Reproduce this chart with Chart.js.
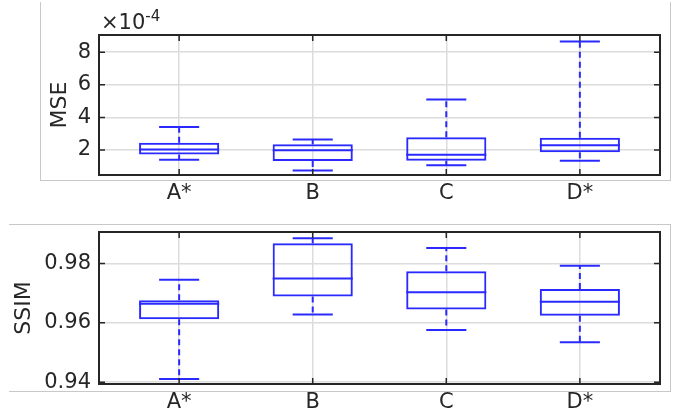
<!DOCTYPE html>
<html>
<head>
<meta charset="utf-8">
<script src="https://cdn.jsdelivr.net/npm/chart.js@4.4.1/dist/chart.umd.min.js"></script>
<style>
  html, body { margin: 0; padding: 0; background: #fff; }
  #wrap { position: relative; width: 683px; height: 415px; overflow: hidden; }
  canvas { position: absolute; left: 0; }
  #c-mse { top: 0; }
  #c-ssim { top: 200px; }
  .panel { position: absolute; border: 1px solid #c8c8c8; box-sizing: border-box; }
  #p-top { left: 40px; top: 2px; width: 631px; height: 179px; border-top: none; }
  #p-bot { left: 9px; top: 224px; width: 662px; height: 168px; border-left: none; }
</style>
</head>
<body>
<div id="wrap">
  <div class="panel" id="p-top"></div>
  <div class="panel" id="p-bot"></div>
  <canvas id="c-mse" width="683" height="200"></canvas>
  <canvas id="c-ssim" width="683" height="215"></canvas>
</div>
<script>
// ── data ──
const categories = ['A*', 'B', 'C', 'D*'];

// MSE (x1e-4)
const mseMin = [1.41e-4, 0.75e-4, 1.06e-4, 1.35e-4];
const mseQ1  = [1.72e-4, 1.33e-4, 1.35e-4, 1.86e-4];
const mseMed = [2.04e-4, 1.98e-4, 1.71e-4, 2.29e-4];
const mseQ3  = [2.45e-4, 2.35e-4, 2.78e-4, 2.76e-4];
const mseMax = [3.41e-4, 2.65e-4, 5.10e-4, 8.65e-4];
const mseTicks = [2e-4, 4e-4, 6e-4, 8e-4];

// SSIM
const ssimMin = [0.9411, 0.9628, 0.9576, 0.9535];
const ssimQ1  = [0.9612, 0.9689, 0.9645, 0.9624];
const ssimMed = [0.9664, 0.9749, 0.9703, 0.9671];
const ssimQ3  = [0.9676, 0.9868, 0.9774, 0.9714];
const ssimMax = [0.9745, 0.9885, 0.9852, 0.9792];
const ssimTicks = [0.94, 0.96, 0.98];

const BLUE = '#2a2aff';
const INK = '#262626';
const FONT = 'DejaVu Sans';

// medians, whiskers, caps, frame and inward ticks
const boxParts = {
  id: 'boxParts',
  afterDatasetsDraw(chart) {
    const o = chart.options.plugins.boxParts;
    const { ctx, scales: { x, y } } = chart;
    const line = (x0, y0, x1, y1) => { ctx.beginPath(); ctx.moveTo(x0, y0); ctx.lineTo(x1, y1); ctx.stroke(); };
    ctx.save();
    ctx.strokeStyle = BLUE;
    ctx.lineWidth = 2;
    o.med.forEach((m, i) => {
      const c = i + 1;
      const cx = x.getPixelForValue(c);
      const b0 = x.getPixelForValue(c - 0.3), b1 = x.getPixelForValue(c + 0.3);
      const k0 = x.getPixelForValue(c - 0.15), k1 = x.getPixelForValue(c + 0.15);
      line(b0, y.getPixelForValue(m), b1, y.getPixelForValue(m));
      ctx.setLineDash([6, 4]);
      line(cx, y.getPixelForValue(o.q3[i]), cx, y.getPixelForValue(o.max[i]));
      line(cx, y.getPixelForValue(o.q1[i]), cx, y.getPixelForValue(o.min[i]));
      ctx.setLineDash([]);
      line(k0, y.getPixelForValue(o.max[i]), k1, y.getPixelForValue(o.max[i]));
      line(k0, y.getPixelForValue(o.min[i]), k1, y.getPixelForValue(o.min[i]));
    });
    ctx.restore();
  },
  afterDraw(chart) {
    const o = chart.options.plugins.boxParts;
    const { ctx, chartArea: a, scales: { x, y } } = chart;
    ctx.save();
    ctx.strokeStyle = INK;
    ctx.lineWidth = 2;
    ctx.strokeRect(a.left, a.top, a.right - a.left, a.bottom - a.top);
    ctx.lineWidth = 1.5;
    ctx.beginPath();
    y.ticks.forEach(t => {
      const py = y.getPixelForValue(t.value);
      ctx.moveTo(a.left, py); ctx.lineTo(a.left + 6, py);
      ctx.moveTo(a.right, py); ctx.lineTo(a.right - 6, py);
    });
    x.ticks.forEach(t => {
      const px = x.getPixelForValue(t.value);
      ctx.moveTo(px, a.top); ctx.lineTo(px, a.top + 6);
      ctx.moveTo(px, a.bottom); ctx.lineTo(px, a.bottom - 6);
    });
    ctx.stroke();
    // exponent label above the axes
    if (o.exponent) {
      ctx.fillStyle = INK;
      ctx.textBaseline = 'alphabetic';
      ctx.font = '21px "' + FONT + '"';
      ctx.fillText('×10', a.left + 2, a.top - 6);
      const w = ctx.measureText('×10').width;
      ctx.font = '15px "' + FONT + '"';
      ctx.fillText(o.exponent, a.left + 2 + w, a.top - 14);
    }
    ctx.restore();
  }
};

function makeBox(id, d) {
  const ctx = document.getElementById(id).getContext('2d');
  return new Chart(ctx, {
    type: 'bar',
    data: {
      datasets: [{
        data: d.q1.map((q, i) => ({ x: i + 1, y: [q, d.q3[i]] })),
        backgroundColor: 'rgba(0,0,0,0)',
        borderColor: BLUE,
        borderWidth: 2,
        borderSkipped: false,
        barPercentage: 0.6,
        categoryPercentage: 1
      }]
    },
    options: {
      responsive: false,
      animation: false,
      devicePixelRatio: 1,
      layout: { padding: d.pad },
      plugins: {
        legend: { display: false },
        tooltip: { enabled: false },
        boxParts: { min: d.min, q1: d.q1, med: d.med, q3: d.q3, max: d.max, exponent: d.exponent }
      },
      scales: {
        x: {
          type: 'linear', min: 0.4, max: 4.6, offset: false,
          grid: { color: '#dcdcdc', lineWidth: 1.5, drawTicks: false, offset: false },
          border: { display: false },
          afterBuildTicks: s => { s.ticks = categories.map((_, i) => ({ value: i + 1 })); },
          afterFit: s => { s.height = d.xh; },
          ticks: { color: INK, font: { family: FONT, size: 21 }, padding: 6, maxRotation: 0, autoSkip: false,
                   callback: v => categories[v - 1] }
        },
        y: {
          min: d.ymin, max: d.ymax,
          grid: { color: '#dcdcdc', lineWidth: 1.5, drawTicks: false },
          border: { display: false },
          afterBuildTicks: s => { s.ticks = d.ticks.map(v => ({ value: v })); },
          afterFit: s => { s.width = 99; },
          ticks: { color: INK, font: { family: FONT, size: 21 }, padding: 8, callback: d.fmt },
          title: { display: true, text: d.title, color: INK, font: { family: FONT, size: 22 }, padding: { top: d.tpad, bottom: 0 } }
        }
      }
    },
    plugins: [boxParts]
  });
}

makeBox('c-mse', {
  min: mseMin, q1: mseQ1, med: mseMed, q3: mseQ3, max: mseMax, ticks: mseTicks,
  ymin: 0.47e-4, ymax: 9.05e-4, fmt: v => String(Math.round(v * 1e4)),
  title: 'MSE', tpad: 47, exponent: '-4', xh: 25,
  pad: { top: 35, right: 23, left: 0, bottom: 0 }
});

makeBox('c-ssim', {
  min: ssimMin, q1: ssimQ1, med: ssimMed, q3: ssimQ3, max: ssimMax, ticks: ssimTicks,
  ymin: 0.9394, ymax: 0.9906, fmt: v => v.toFixed(2),
  title: 'SSIM', tpad: 11, exponent: null, xh: 31,
  pad: { top: 32, right: 23, left: 0, bottom: 0 }
});
</script>
</body>
</html>
